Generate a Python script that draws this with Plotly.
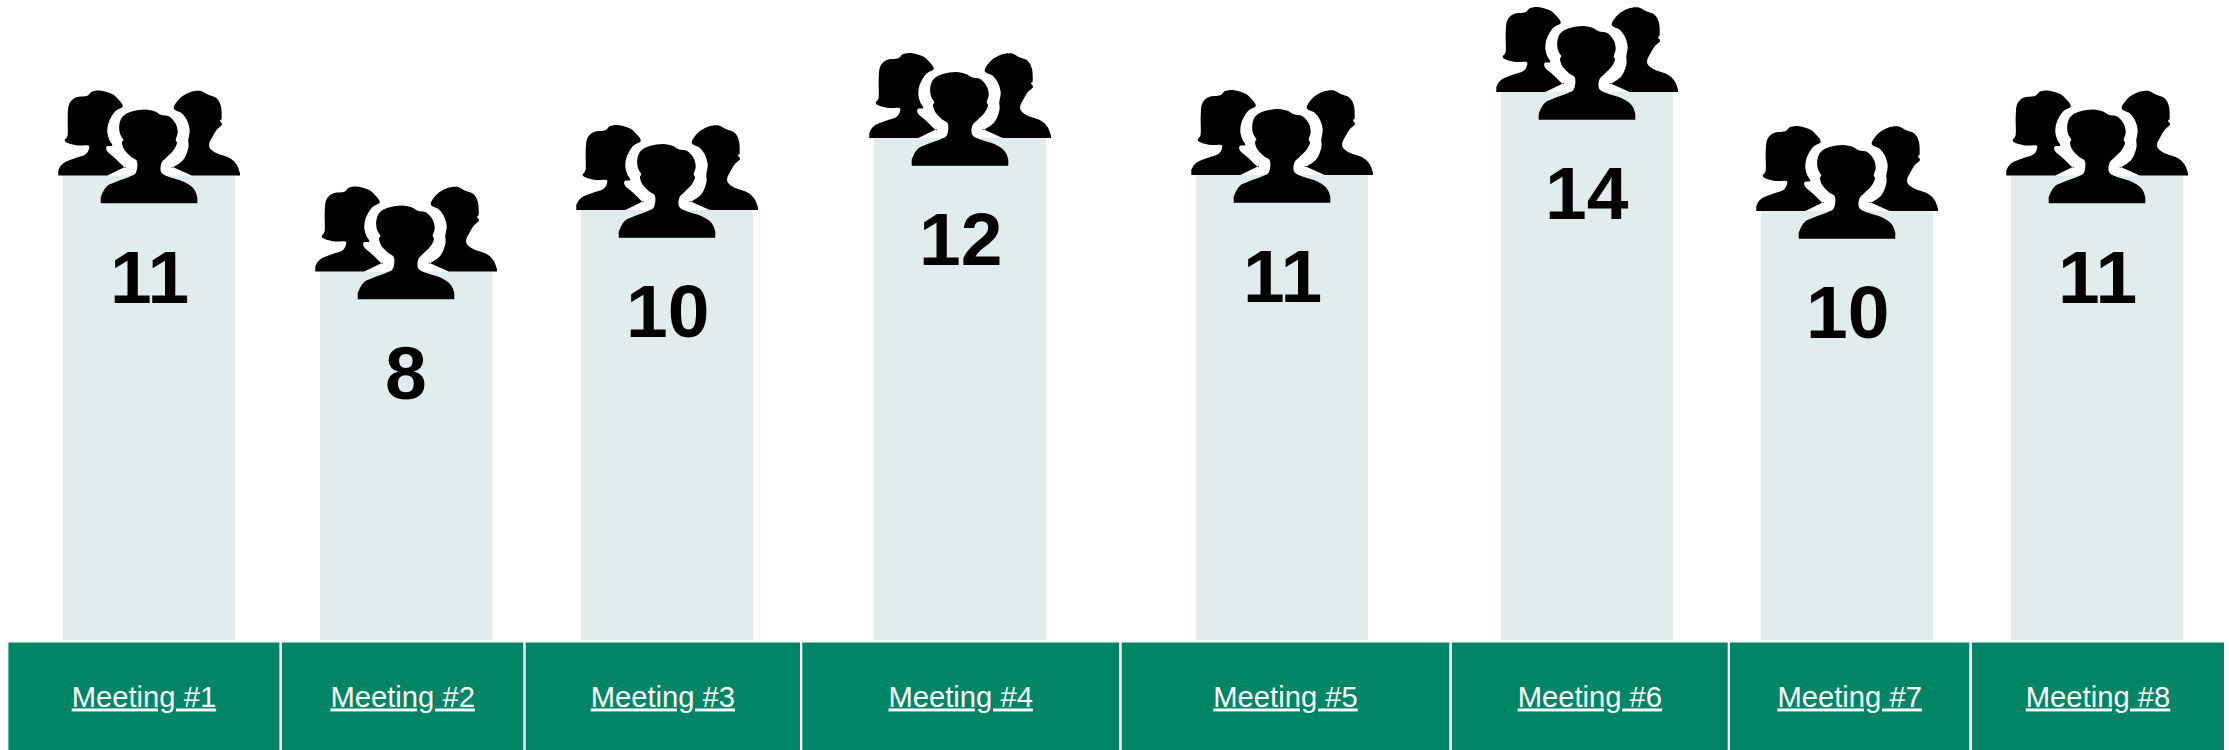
import plotly.graph_objects as go

meetings = ["Meeting #1", "Meeting #2", "Meeting #3", "Meeting #4",
            "Meeting #5", "Meeting #6", "Meeting #7", "Meeting #8"]
attendees = [11, 8, 10, 12, 11, 14, 10, 11]
bar_heights = [464.5, 368.5, 430, 502, 465, 548, 429, 464.5]
bar_centers = [149, 406, 667, 960, 1282, 1587, 1847, 2097]
band_left = [8.4, 282, 525.7, 802.3, 1121.7, 1452, 1730, 1972]
band_right = [279.4, 523.3, 800, 1119, 1449.3, 1727.7, 1969.3, 2224]

BAR = "#e1eded"
BAND = "#008566"

bands_x = [(a + b) / 2 for a, b in zip(band_left, band_right)]
bands_w = [b - a for a, b in zip(band_left, band_right)]


def smooth(pts):
    """Closed outline: straight base, Catmull-Rom curve through the traced points."""
    d = f"M{pts[0][0]:.1f},{pts[0][1]:.1f} L{pts[1][0]:.1f},{pts[1][1]:.1f} "
    for i in range(1, len(pts) - 2):
        p0, p1, p2, p3 = pts[i - 1], pts[i], pts[i + 1], pts[i + 2]
        c1 = (p1[0] + (p2[0] - p0[0]) / 6, p1[1] + (p2[1] - p0[1]) / 6)
        c2 = (p2[0] - (p3[0] - p1[0]) / 6, p2[1] - (p3[1] - p1[1]) / 6)
        d += f"C{c1[0]:.1f},{c1[1]:.1f} {c2[0]:.1f},{c2[1]:.1f} {p2[0]:.1f},{p2[1]:.1f} "
    d += f"L{pts[-1][0]:.1f},{pts[-1][1]:.1f} Z"
    return d


def icon(pts):
    return smooth([((x - 447) / 3, (347 - y) / 3) for x, y in pts])


centre = [(302, 430), (302, 412), (320, 380), (350, 365), (390, 350), (408, 338), (411, 305),
          (392, 290), (372, 268), (366, 248), (370, 240), (360, 222), (358, 195), (368, 170),
          (395, 155), (435, 149), (465, 155), (482, 165), (508, 170), (527, 192), (533, 218),
          (527, 240), (531, 250), (520, 272), (500, 292), (484, 310), (484, 338), (510, 352),
          (550, 365), (580, 385), (592, 412), (592, 430)]
left = [(175, 347), (175, 332), (190, 310), (225, 295), (255, 285), (266, 270), (265, 257),
        (235, 257), (205, 250), (194, 241), (203, 225), (203, 170), (208, 132), (228, 113),
        (262, 108), (275, 96), (300, 92), (335, 102), (356, 120), (368, 140), (345, 155),
        (327, 185), (322, 215), (328, 240), (337, 257), (320, 260), (322, 275), (345, 295),
        (373, 322), (373, 322), (322, 347)]
right = [(720, 347), (720, 340), (710, 315), (690, 295), (650, 280), (630, 265), (628, 250),
         (635, 235), (650, 210), (666, 195), (660, 183), (665, 175), (663, 140), (650, 115),
         (625, 105), (600, 93), (570, 97), (540, 115), (521, 145), (545, 160), (560, 180),
         (569, 210), (565, 240), (565, 265), (550, 300), (520, 322), (520, 322), (575, 347)]
icon_paths = [icon(left), icon(right), icon(centre)]

fig = go.Figure()
fig.add_bar(x=bar_centers, y=bar_heights, width=172, marker_color=BAR, marker_line_width=0,
            hoverinfo="skip", showlegend=False)
fig.add_bar(x=bands_x, y=[-108] * 8, base=-2.5, width=bands_w, marker_color=BAND, marker_line_width=0,
            text=[f"<u>{m}</u>" for m in meetings], textposition="inside",
            insidetextanchor="middle", textangle=0, constraintext="none",
            textfont=dict(family="Liberation Sans, Arial, sans-serif", size=29.2, color="white"),
            hoverinfo="skip", showlegend=False)

for cx, h, n in zip(bar_centers, bar_heights, attendees):
    for p in icon_paths:
        fig.add_shape(type="path", path=p, xsizemode="pixel", ysizemode="pixel",
                      xanchor=cx, yanchor=h, xref="x", yref="y",
                      fillcolor="black", line_width=0, layer="above")
    fig.add_annotation(x=cx, y=h, yshift=-101, text=f"<b>{n}</b>", showarrow=False,
                       font=dict(family="Liberation Sans, Arial, sans-serif", size=75, color="black"))

fig.update_layout(
    width=2229, height=750, margin=dict(l=0, r=0, t=0, b=0), autosize=False,
    paper_bgcolor="white", plot_bgcolor="white", barmode="overlay", showlegend=False,
    xaxis=dict(range=[0, 2229], visible=False, fixedrange=True),
    yaxis=dict(range=[-110, 640], visible=False, fixedrange=True),
)
fig.write_html("out.html", config=dict(displayModeBar=False),
               post_script="document.body.style.margin='0';document.body.style.overflow='hidden';")
